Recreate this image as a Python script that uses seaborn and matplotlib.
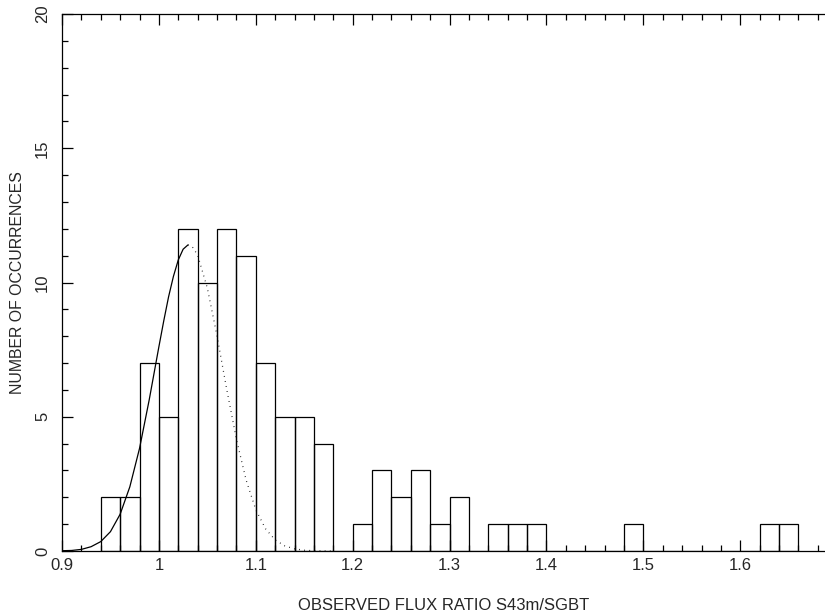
import numpy as np
import pandas as pd
import matplotlib
matplotlib.use("Agg")
import matplotlib.pyplot as plt
from matplotlib.ticker import MultipleLocator
import seaborn as sns

sns.set_theme(style="ticks")
plt.rcParams['font.family'] = ['Liberation Sans', 'DejaVu Sans']

# histogram of flux ratios, bins 0.02 wide starting at 0.94
bin_lo = 0.94
bin_width = 0.02
counts = [2, 2, 7, 5, 12, 10, 12, 11, 7, 5, 5, 4, 0, 1, 3, 2, 3, 1,
          2, 0, 1, 1, 1, 0, 0, 0, 0, 1, 0, 0, 0, 0, 0, 0, 1, 1]

# gaussian fit (solid up to the peak, dotted after)
fit_x_solid = [0.90, 0.91, 0.92, 0.93, 0.94, 0.95, 0.96, 0.97, 0.98, 0.99,
               1.00, 1.005, 1.01, 1.015, 1.02, 1.025, 1.03]
fit_y_solid = [0.01, 0.02, 0.06, 0.16, 0.35, 0.72, 1.37, 2.39, 3.82, 5.63,
               7.61, 8.57, 9.47, 10.23, 10.84, 11.24, 11.40]
fit_x_dot = [1.03, 1.035, 1.04, 1.05, 1.06, 1.07, 1.08, 1.09, 1.10, 1.11,
             1.12, 1.13, 1.14, 1.15, 1.16, 1.17, 1.18]
fit_y_dot = [11.40, 11.30, 11.02, 9.79, 8.01, 6.02, 4.16, 2.64, 1.54, 0.83,
             0.41, 0.19, 0.08, 0.03, 0.01, 0.003, 0.0]

centers = np.round(bin_lo + bin_width * (np.arange(len(counts)) + 0.5), 3)
df = pd.DataFrame({"ratio": centers, "n": counts})
bin_hi = round(bin_lo + bin_width * len(counts), 2)

fig = plt.figure(figsize=(8.25, 6.15), dpi=100)
ax = fig.add_axes([62 / 825, 1 - 551 / 615, 763 / 825, 537 / 615])

sns.histplot(data=df, x="ratio", weights="n", binwidth=bin_width,
             binrange=(bin_lo, bin_hi), fill=False,
             color="black", linewidth=0.9, ax=ax)
sns.lineplot(x=fit_x_solid, y=fit_y_solid, color="black", linewidth=0.9,
             ax=ax, sort=False)
ax.plot(fit_x_dot, fit_y_dot, color="black", linewidth=0.9,
        linestyle=(0, (0.6, 3.5)))

ax.set_xlim(0.9, 0.9 + 763 / 969)
ax.set_ylim(0, 20)
ax.xaxis.set_minor_locator(MultipleLocator(0.02))
ax.yaxis.set_minor_locator(MultipleLocator(1))
ax.set_xticks([0.9, 1.0, 1.1, 1.2, 1.3, 1.4, 1.5, 1.6])
ax.set_xticklabels(["0.9", "1", "1.1", "1.2", "1.3", "1.4", "1.5", "1.6"])
ax.set_yticks([0, 5, 10, 15, 20])
ax.set_yticklabels(["0", "5", "10", "15", "20"], rotation=90, va="center")

ax.tick_params(which="both", direction="in", top=True, right=False,
               color="black", width=0.9)
ax.tick_params(which="major", length=8, labelsize=12)
ax.tick_params(which="minor", length=4)
ax.tick_params(axis="x", pad=5)
ax.tick_params(axis="y", pad=8.5)
ax.spines["right"].set_visible(False)
for s in ["left", "top", "bottom"]:
    ax.spines[s].set_linewidth(0.9)
    ax.spines[s].set_color("black")

ax.set_xlabel("OBSERVED FLUX RATIO S43m/SGBT", fontsize=12)
ax.set_ylabel("NUMBER OF OCCURRENCES", fontsize=11.4)
ax.xaxis.set_label_coords(0.5, -0.0875)
ax.yaxis.set_label_coords(-0.0485, 0.5)

fig.savefig("out.png", dpi=100)
